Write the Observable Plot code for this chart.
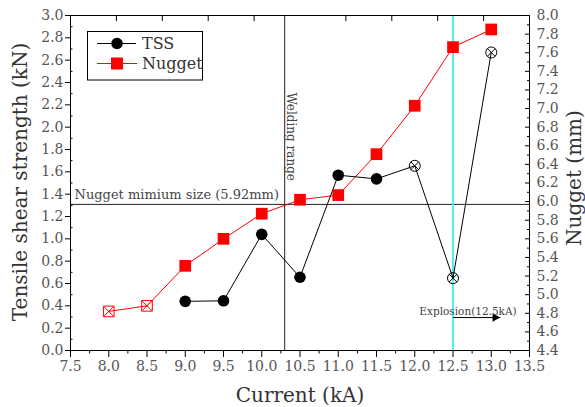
<!DOCTYPE html>
<html><head><meta charset="utf-8">
<script src="https://cdn.jsdelivr.net/npm/d3@7"></script>
<script src="https://cdn.jsdelivr.net/npm/@observablehq/plot@0.6"></script>
<style>
body{margin:0;background:#fff}
#chart svg [aria-label$="tick label"] text{fill:#555}
#chart svg text.legend{font-family:'DejaVu Serif',serif;font-size:16px;fill:#333}
</style></head><body><div id="chart"></div><script>
// ---- data ----
const currents   = [8.0, 8.5, 9.0, 9.5, 10.0, 10.5, 11.0, 11.5, 12.0, 12.5, 13.0];
const nuggetMm   = [4.82, 4.88, 5.31, 5.60, 5.87, 6.02, 6.07, 6.51, 7.03, 7.66, 7.85];
const nuggetOpen = [true, true, false, false, false, false, false, false, false, false, false];
const tssCurrents = [9.0, 9.5, 10.0, 10.5, 11.0, 11.5, 12.0, 12.5, 13.0];
const tssKN       = [0.44, 0.445, 1.04, 0.656, 1.57, 1.537, 1.654, 0.648, 2.669];
const tssOpen     = [false, false, false, false, false, false, true, true, true];

const xTickValues = [7.5, 8.0, 8.5, 9.0, 9.5, 10.0, 10.5, 11.0, 11.5, 12.0, 12.5, 13.0, 13.5];
const xMinorTicks = [7.75, 8.25, 8.75, 9.25, 9.75, 10.25, 10.75, 11.25, 11.75, 12.25, 12.75, 13.25];
const topTicks    = [8.1, 8.7, 9.3, 9.9, 11.1, 11.7, 12.3, 12.9];
const leftTickValues = [0.0, 0.2, 0.4, 0.6, 0.8, 1.0, 1.2, 1.4, 1.6, 1.8, 2.0, 2.2, 2.4, 2.6, 2.8, 3.0];
const leftMinorTicks = [0.1, 0.3, 0.5, 0.7, 0.9, 1.1, 1.3, 1.5, 1.7, 1.9, 2.1, 2.3, 2.5, 2.7, 2.9];
const rightTickValues = [4.4, 4.6, 4.8, 5.0, 5.2, 5.4, 5.6, 5.8, 6.0, 6.2, 6.4, 6.6, 6.8, 7.0, 7.2, 7.4, 7.6, 7.8, 8.0];
const rightMinorTicks = [4.5, 4.7, 4.9, 5.1, 5.3, 5.5, 5.7, 5.9, 6.1, 6.3, 6.5, 6.7, 6.9, 7.1, 7.3, 7.5, 7.7, 7.9];

const xDomain = [7.5, 13.5];
const leftDomain = [0, 3.0];
const rightDomain = [4.4, 8.0];

const nuggetMinMm = 5.97;      // position of the horizontal line as drawn
const weldingRangeKA = 10.3;
const explosionKA = 12.5;
const arrowTipKA = 13.12;
const arrowHeadKA = 13.05;
const arrowLevelKN = 0.295;

const labels = {
  x: "Current (kA)",
  yLeft: "Tensile shear strength (kN)",
  yRight: "Nugget (mm)",
  nuggetMin: "Nugget mimium size (5.92mm)",
  welding: "Welding range",
  explosion: "Explosion(12.5kA)",
  tss: "TSS",
  nugget: "Nugget"
};

// ---- build ----
const mmToKN = mm => leftDomain[0] + (mm - rightDomain[0]) / (rightDomain[1] - rightDomain[0]) * (leftDomain[1] - leftDomain[0]);
const knToMm = kn => rightDomain[0] + (kn - leftDomain[0]) / (leftDomain[1] - leftDomain[0]) * (rightDomain[1] - rightDomain[0]);

const nugget = currents.map((c, i) => ({current: c, mm: nuggetMm[i], y: mmToKN(nuggetMm[i]), open: nuggetOpen[i]}));
const tss = tssCurrents.map((c, i) => ({current: c, kN: tssKN[i], open: tssOpen[i]}));
const arrow = [{x1: explosionKA, x2: arrowTipKA, y: arrowLevelKN}];

const chart = Plot.plot({
  width: 585, height: 407,
  marginLeft: 70, marginRight: 56, marginTop: 15, marginBottom: 57,
  style: {fontFamily: "'DejaVu Serif', serif", fontSize: "14px", background: "#fff", color: "#000"},
  x: {domain: xDomain},
  y: {domain: leftDomain},
  marks: [
    Plot.ruleY([nuggetMinMm], {y: mmToKN, stroke: "#222", strokeWidth: 1}),
    Plot.ruleX([weldingRangeKA], {stroke: "#222", strokeWidth: 1}),
    Plot.ruleX([explosionKA], {stroke: "#55eef0", strokeWidth: 2}),
    Plot.line(nugget, {x: "current", y: "y", stroke: "#ff0000", strokeWidth: 1}),
    Plot.line(tss, {x: "current", y: "kN", stroke: "#000", strokeWidth: 1}),
    Plot.dot(nugget.filter(d => !d.open), {x: "current", y: "y", symbol: "square", r: 6.6, fill: "#ff0000"}),
    Plot.dot(nugget.filter(d => d.open), {x: "current", y: "y", symbol: "square", r: 6, stroke: "#ff0000", fill: "none", strokeWidth: 1}),
    Plot.dot(nugget.filter(d => d.open), {x: "current", y: "y", symbol: "times", r: 4.6, stroke: "#ff0000", strokeWidth: 1}),
    Plot.dot(tss.filter(d => !d.open), {x: "current", y: "kN", symbol: "circle", r: 5.8, fill: "#000"}),
    Plot.dot(tss.filter(d => d.open), {x: "current", y: "kN", symbol: "circle", r: 5.5, stroke: "#000", fill: "none", strokeWidth: 1}),
    Plot.dot(tss.filter(d => d.open), {x: "current", y: "kN", symbol: "times", r: 3.7, stroke: "#000", strokeWidth: 1}),
    // annotations
    Plot.text([labels.nuggetMin], {x: xDomain[0], y: mmToKN(nuggetMinMm), dx: 4, dy: -5, textAnchor: "start", lineAnchor: "bottom", fontSize: 13, fill: "#444"}),
    Plot.text([labels.welding], {x: weldingRangeKA, frameAnchor: "top", rotate: 90, textAnchor: "start", lineAnchor: "middle", dx: 6, dy: 77, fontSize: 12, fill: "#444"}),
    Plot.link(arrow, {x1: "x1", x2: "x2", y1: "y", y2: "y", stroke: "#000", strokeWidth: 1}),
    Plot.dot(arrow, {x: () => arrowHeadKA, y: "y", symbol: "triangle", rotate: 90, r: 3.2, fill: "#000"}),
    Plot.text([labels.explosion], {x: explosionKA, y: arrowLevelKN, dx: 15, dy: -3, textAnchor: "middle", lineAnchor: "bottom", fontSize: 10.5, fill: "#444"}),
    // axis titles
    Plot.text([labels.yLeft], {frameAnchor: "left", dx: -50, dy: -1, rotate: -90, textAnchor: "middle", fontSize: 20, fill: "#333", lineAnchor: "middle"}),
    Plot.text([labels.yRight], {frameAnchor: "right", dx: 45, dy: -5, rotate: -90, textAnchor: "middle", fontSize: 20, fill: "#333", lineAnchor: "middle"}),
    Plot.text([labels.x], {frameAnchor: "bottom", dy: 45, textAnchor: "middle", fontSize: 20, fill: "#333", lineAnchor: "middle"}),
    // axes
    Plot.axisX({anchor: "bottom", ticks: xTickValues, tickSize: 7, tickPadding: 4, tickFormat: d3.format(".1f"), label: null, fontSize: 14}),
    Plot.axisX({anchor: "bottom", ticks: xMinorTicks, tickSize: 3.5, tickFormat: () => "", label: null}),
    Plot.axisX({anchor: "top", ticks: topTicks, tickSize: -5, tickFormat: () => "", label: null}),
    Plot.axisY({anchor: "left", ticks: leftTickValues, tickSize: 5, tickPadding: 2, tickFormat: d3.format(".1f"), label: null, fontSize: 14}),
    Plot.axisY({anchor: "left", ticks: leftMinorTicks, tickSize: -2.5, tickFormat: () => "", label: null}),
    Plot.axisY({anchor: "right", ticks: rightTickValues.map(mmToKN), tickSize: -5, tickPadding: 12, tickFormat: d => knToMm(d).toFixed(1), label: null, fontSize: 14}),
    Plot.axisY({anchor: "right", ticks: rightMinorTicks.map(mmToKN), tickSize: -3, tickFormat: () => "", label: null}),
    Plot.frame({stroke: "#000", strokeWidth: 1})
  ]
});
document.getElementById("chart").appendChild(chart);

// legend box inside the plot area
const svg = d3.select(chart);
const lg = svg.append("g").attr("text-anchor", "start");
lg.append("rect").attr("x", 87.5).attr("y", 31.5).attr("width", 115).attr("height", 48.5).attr("fill", "#fff").attr("stroke", "#000");
lg.append("line").attr("x1", 97).attr("x2", 136).attr("y1", 43.5).attr("y2", 43.5).attr("stroke", "#000");
lg.append("circle").attr("cx", 117).attr("cy", 43.5).attr("r", 5.8).attr("fill", "#000");
lg.append("text").attr("class", "legend").attr("x", 142).attr("y", 48.5).attr("text-anchor", "start").text(labels.tss);
lg.append("line").attr("x1", 97).attr("x2", 137).attr("y1", 63.5).attr("y2", 63.5).attr("stroke", "#ff0000");
lg.append("rect").attr("x", 111).attr("y", 57.5).attr("width", 12).attr("height", 12).attr("fill", "#ff0000");
lg.append("text").attr("class", "legend").attr("x", 142).attr("y", 68.5).attr("text-anchor", "start").text(labels.nugget);
</script></body></html>
